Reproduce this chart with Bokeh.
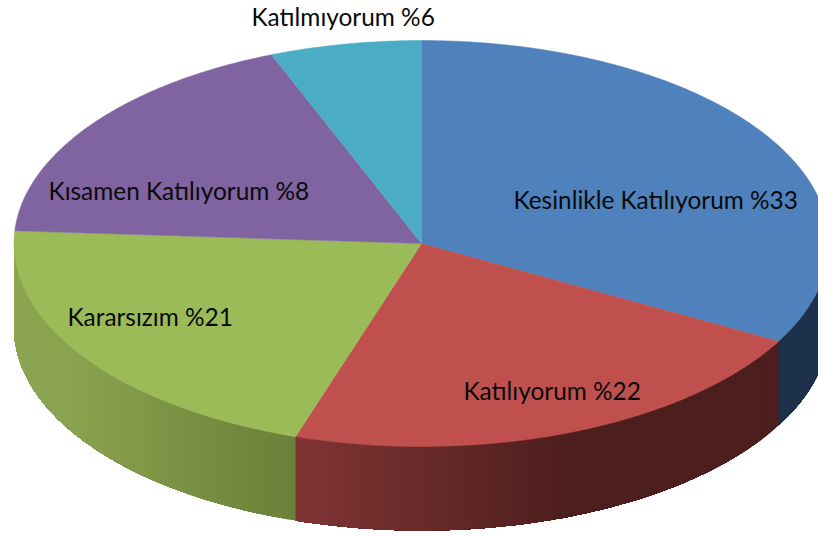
import math
from bokeh.plotting import figure
from bokeh.models import ColumnDataSource, Range1d
from bokeh.embed import file_html
from bokeh.resources import INLINE
from bokeh.core.properties import value

# data
categories = ["Kesinlikle Katılıyorum", "Katılıyorum", "Kararsızım", "Kısamen Katılıyorum", "Katılmıyorum"]
shares = [33, 22, 21, 18, 6]          # slice sizes as drawn
printed = [33, 22, 21, 8, 6]          # numbers printed in the labels

# style
top_colors = ["#4f81bd", "#c0504d", "#9bbb59", "#8064a2", "#4bacc6"]
side_shades = [
    [("#1d314b", 0), ("#1d314b", 1)],
    [("#803534", 296), ("#4c1e1d", 572), ("#4c1e1d", 780)],
    [("#8ba450", 14), ("#8aa34f", 70), ("#6a7f38", 296)],
    None,
    None,
]
label_x = [513, 463, 67, 48, 251]
label_y = [199, 390, 316, 190, 16]
FONT = "Lato"
FONT_SIZE = "24.4px"

# layout, in page pixels
CX, CY, RX, RY, DEPTH = 421.0, 243.0, 407.5, 203.0, 84.0


def pt(deg):
    a = math.radians(deg)
    return CX + RX * math.sin(a), CY - RY * math.cos(a)


def mix(stops, x):
    x0, c0 = stops[0][1], stops[0][0]
    if x <= x0:
        return c0
    for (c1, x1) in stops[1:]:
        if x <= x1:
            t = (x - x0) / max(x1 - x0, 1e-6)
            a = [int(c0[i:i + 2], 16) for i in (1, 3, 5)]
            b = [int(c1[i:i + 2], 16) for i in (1, 3, 5)]
            return "#%02x%02x%02x" % tuple(round(u + (v - u) * t) for u, v in zip(a, b))
        x0, c0 = x1, c1
    return c0


p = figure(width=818, height=536, output_backend="svg", toolbar_location=None,
           x_range=Range1d(0, 818), y_range=Range1d(536, 0),
           min_border=0, outline_line_color=None, background_fill_color="white")
p.axis.visible = False
p.grid.visible = False

total = sum(shares)
start = 0.0
side_x, side_y, side_c = [], [], []
top_x, top_y = [], []
for share, shades in zip(shares, side_shades):
    end = start + 360.0 * share / total
    a0, a1 = max(start, 90.0), min(end, 270.0)
    if shades and a1 > a0:
        n = max(2, int(a1 - a0))
        for i in range(n):
            d0 = a0 + (a1 - a0) * i / n
            # each strip runs on to the slice's end, so the next one overlaps it and no seam shows
            arc = [pt(d0 + (a1 - d0) * j / (n - i)) for j in range(n - i + 1)]
            side_x.append([q[0] for q in arc] + [q[0] for q in reversed(arc)])
            side_y.append([q[1] for q in arc] + [q[1] + DEPTH for q in reversed(arc)])
            d1 = a0 + (a1 - a0) * (i + 1) / n
            side_c.append(mix(shades, (pt(d0)[0] + pt(d1)[0]) / 2))
    n = max(2, int(end - start) * 2)
    arc = [pt(start + (end - start) * i / n) for i in range(n + 1)]
    top_x.append([CX] + [q[0] for q in arc])
    top_y.append([CY] + [q[1] for q in arc])
    start = end

p.patches("x", "y", source=ColumnDataSource(dict(x=side_x, y=side_y, c=side_c)),
          fill_color="c", line_color=None)
p.patches("x", "y", source=ColumnDataSource(dict(x=top_x, y=top_y, c=top_colors)),
          fill_color="c", line_color="c", line_width=0.5)

texts = [f"{c} %{v}" for c, v in zip(categories, printed)]
p.text("x", "y", "t", source=ColumnDataSource(dict(x=label_x, y=label_y, t=texts)),
       text_font=value(FONT), text_font_size=value(FONT_SIZE), text_color="#0a0a0a",
       text_align="left", text_baseline="middle")

open("out.html", "w").write(file_html(p, INLINE))
